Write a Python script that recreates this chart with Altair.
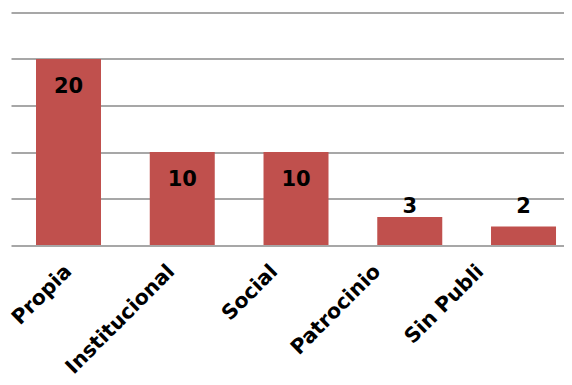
import altair as alt
import pandas as pd

categories = ["Propia", "Institucional", "Social", "Patrocinio", "Sin Publi"]
values = [20, 10, 10, 3, 2]

df = pd.DataFrame({"cat": categories, "val": values})

FONT = "DejaVu Sans"

x = alt.X(
    "cat:N",
    sort=categories,
    title=None,
    scale=alt.Scale(paddingInner=0.4286, paddingOuter=0.145, align=0.758, round=False),
    axis=alt.Axis(
        labelAngle=-45,
        labelFont=FONT,
        labelFontWeight="bold",
        labelFontSize=20.5,
        labelColor="#000000",
        labelPadding=16,
        labelOffset=alt.ExprRef("-7 - 43 * datum.index"),
        domain=False,
        ticks=False,
        grid=False,
        labelOverlap=False,
    ),
)

y_scale = alt.Scale(domain=[0, 25], nice=False)

bars = alt.Chart(df).mark_bar(color="#C0504D").encode(
    x=x,
    y=alt.Y(
        "val:Q",
        title=None,
        scale=y_scale,
        axis=alt.Axis(
            values=[0, 5, 10, 15, 20, 25],
            labels=False,
            ticks=False,
            domain=False,
            grid=True,
            gridColor="#8a8a8a",
            gridWidth=1.4,
        ),
    ),
)

text = (
    alt.Chart(df)
    .transform_calculate(ly="max(datum.val - 3, 4.1)")
    .mark_text(font=FONT, fontWeight="bold", fontSize=21, color="#000000", baseline="middle")
    .encode(
        x=alt.X("cat:N", sort=categories),
        y=alt.Y("ly:Q", scale=y_scale),
        text=alt.Text("val:Q"),
    )
)

chart = (
    alt.layer(bars, text)
    .properties(
        width=553,
        height=232.5,
        autosize=alt.AutoSizeParams(type="none"),
        padding={"left": 3, "top": 4.5, "right": 0, "bottom": 132},
    )
    .configure_view(stroke=None)
)

chart.save("out.html", embed_options={"renderer": "svg", "actions": False})
